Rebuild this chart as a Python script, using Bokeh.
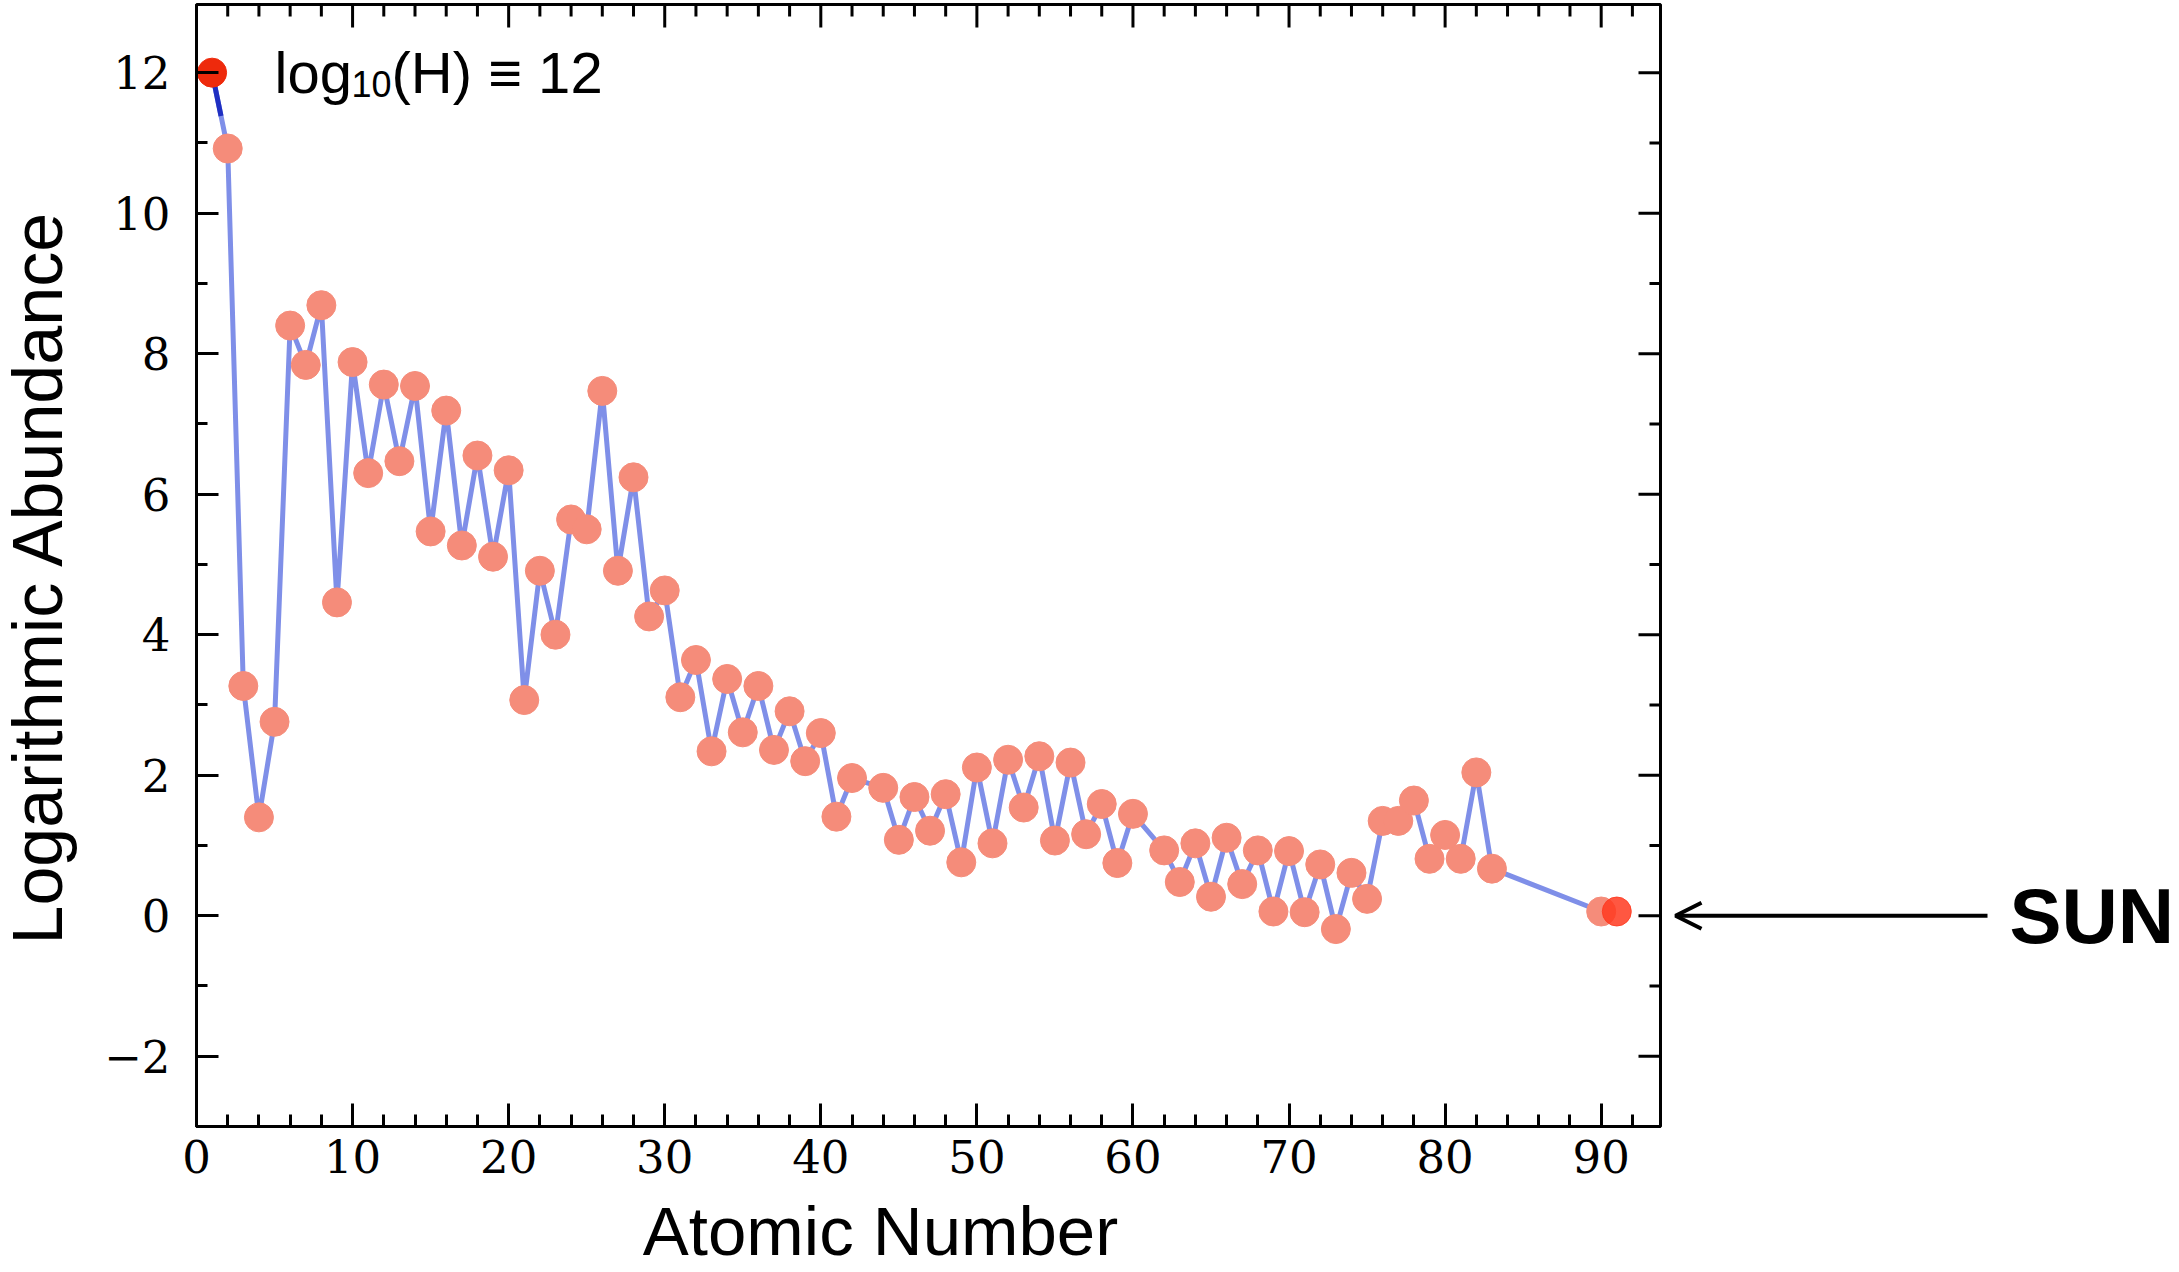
import math
from bokeh.plotting import figure
from bokeh.layouts import row, column
from bokeh.models import (Range1d, LinearAxis, SingleIntervalTicker, Label, Arrow, OpenHead)
from bokeh.embed import file_html
from bokeh.resources import INLINE

# ---- data ----
atomic_number = [1, 2, 3, 4, 5, 6, 7, 8, 9, 10,
                 11, 12, 13, 14, 15, 16, 17, 18, 19, 20,
                 21, 22, 23, 24, 25, 26, 27, 28, 29, 30,
                 31, 32, 33, 34, 35, 36, 37, 38, 39, 40,
                 41, 42, 44, 45, 46, 47, 48, 49, 50,
                 51, 52, 53, 54, 55, 56, 57, 58, 59, 60,
                 62, 63, 64, 65, 66, 67, 68, 69, 70,
                 71, 72, 73, 74, 75, 76, 77, 78, 79, 80,
                 81, 82, 83, 90]
log_abundance = [12.00, 10.92, 3.27, 1.40, 2.76, 8.40, 7.84, 8.69, 4.46, 7.88,
                 6.30, 7.56, 6.47, 7.54, 5.47, 7.19, 5.27, 6.55, 5.11, 6.34,
                 3.07, 4.91, 4.00, 5.64, 5.50, 7.47, 4.91, 6.24, 4.26, 4.63,
                 3.11, 3.64, 2.34, 3.37, 2.61, 3.27, 2.36, 2.91, 2.20, 2.60,
                 1.41, 1.96, 1.82, 1.08, 1.69, 1.21, 1.73, 0.76, 2.11,
                 1.03, 2.22, 1.54, 2.27, 1.07, 2.18, 1.16, 1.59, 0.75, 1.45,
                 0.93, 0.48, 1.03, 0.27, 1.11, 0.45, 0.93, 0.06, 0.92,
                 0.05, 0.73, -0.19, 0.61, 0.24, 1.35, 1.35, 1.64, 0.81, 1.15,
                 0.81, 2.04, 0.67, 0.06]
extra_z = [91]
extra_abundance = [0.06]

x_major_ticks = [0, 10, 20, 30, 40, 50, 60, 70, 80, 90]
x_minor_ticks = [v for v in range(0, 94, 2) if v % 10 != 0]
y_major_ticks = [-2, 0, 2, 4, 6, 8, 10, 12]
y_minor_ticks = [-3, -1, 1, 3, 5, 7, 9, 11]

X_MIN, X_MAX = 0, 93.8
Y_MIN, Y_MAX = -3, 12.97

LINE_COLOR = "#7F8FE8"
DOT_COLOR = "#F58C7A"
H_COLOR = "#EE2A0C"
EXTRA_COLOR = "#FF3A20"
FONT = "Liberation Sans"

TOTAL_W = 2176
TOP_H = 1192
BOTTOM_H = 78
LEFT_W = 100
MAIN_W = 96 + 1464 + 12
SIDE_W = TOTAL_W - LEFT_W - MAIN_W
FRAME_TOP = 4
FRAME_BOTTOM_BORDER = 66


def blank_figure(w, h, xr, yr, **kw):
    f = figure(width=w, height=h, x_range=xr, y_range=yr,
               output_backend="svg", toolbar_location=None,
               x_axis_location=None, y_axis_location=None, **kw)
    f.grid.visible = False
    f.outline_line_color = None
    f.background_fill_color = "white"
    f.border_fill_color = "white"
    return f


yr_shared = Range1d(Y_MIN, Y_MAX)

# ---- main plot ----
p = blank_figure(MAIN_W, TOP_H, Range1d(X_MIN, X_MAX), yr_shared,
                 min_border_left=96, min_border_right=12,
                 min_border_top=FRAME_TOP, min_border_bottom=FRAME_BOTTOM_BORDER)
p.outline_line_color = "black"
p.outline_line_width = 3


def style_axis(ax, tick_in, minor_in, standoff):
    ax.axis_line_color = "black"
    ax.axis_line_width = 3
    ax.major_tick_line_width = 3
    ax.minor_tick_line_width = 3
    ax.major_tick_out = 0
    ax.minor_tick_out = 0
    ax.major_tick_in = tick_in
    ax.minor_tick_in = minor_in
    ax.major_label_text_font = "DejaVu Serif"
    ax.major_label_text_font_size = "45px"
    ax.major_label_text_color = "black"
    ax.major_label_standoff = standoff


xb = LinearAxis(ticker=SingleIntervalTicker(interval=10, num_minor_ticks=5))
style_axis(xb, 23, 12, 13)
yl = LinearAxis(ticker=SingleIntervalTicker(interval=2, num_minor_ticks=2))
style_axis(yl, 22, 11, 26)
yl.major_label_overrides = {-2: "\u22122"}
p.add_layout(xb, "below")
p.add_layout(yl, "left")

# inward ticks on the top and right frame edges (half of each dash is clipped by the frame)
p.scatter(x_major_ticks, [Y_MAX] * len(x_major_ticks), marker="dash", size=46,
          angle=math.pi / 2, line_color="black", line_width=3)
p.scatter(x_minor_ticks, [Y_MAX] * len(x_minor_ticks), marker="dash", size=24,
          angle=math.pi / 2, line_color="black", line_width=3)
p.scatter([X_MAX] * len(y_major_ticks), y_major_ticks, marker="dash", size=44,
          line_color="black", line_width=3)
p.scatter([X_MAX] * len(y_minor_ticks), y_minor_ticks, marker="dash", size=22,
          line_color="black", line_width=3)

# connecting line
p.line(atomic_number, log_abundance, line_color=LINE_COLOR, line_width=5)
# darker first part of the H -> He segment
frac = 0.57
p.segment(x0=[atomic_number[0]], y0=[log_abundance[0]],
          x1=[atomic_number[0] + frac * (atomic_number[1] - atomic_number[0])],
          y1=[log_abundance[0] + frac * (log_abundance[1] - log_abundance[0])],
          line_color="#1F2FC2", line_width=5)

# dots
p.scatter(atomic_number[1:], log_abundance[1:], size=29,
          fill_color=DOT_COLOR, line_color=DOT_COLOR, line_width=1)
p.scatter(atomic_number[:1], log_abundance[:1], size=29,
          fill_color=H_COLOR, line_color=H_COLOR, line_width=1)
p.scatter(extra_z, extra_abundance, size=29,
          fill_color=EXTRA_COLOR, line_color=EXTRA_COLOR, fill_alpha=0.85, line_alpha=0.85)

# annotation log10(H) = 12
p.add_layout(Label(x=5.0, y=12, text="log", text_font=FONT, text_font_size="58px",
                   text_color="black", text_baseline="middle", text_align="left"))
p.add_layout(Label(x=5.0, y=12, x_offset=77, y_offset=-11, text="10", text_font=FONT,
                   text_font_size="36px", text_color="black", text_baseline="middle",
                   text_align="left"))
p.add_layout(Label(x=5.0, y=12, x_offset=117, text="(H) \u2261 12", text_font=FONT,
                   text_font_size="58px", text_color="black", text_baseline="middle",
                   text_align="left"))

# ---- left strip with the y-axis title ----
left = blank_figure(LEFT_W, TOP_H, Range1d(0, LEFT_W), Range1d(0, TOP_H),
                    min_border_left=0, min_border_right=0, min_border_top=0, min_border_bottom=0)
left.add_layout(Label(x=37, y=TOP_H - 608, text="Logarithmic Abundance", text_font=FONT,
                      text_font_size="70px", text_color="black", angle=math.pi / 2,
                      text_align="center", text_baseline="middle"))

# ---- right strip with the SUN arrow ----
side = blank_figure(SIDE_W, TOP_H, Range1d(0, SIDE_W), yr_shared,
                    min_border_left=0, min_border_right=0,
                    min_border_top=FRAME_TOP, min_border_bottom=FRAME_BOTTOM_BORDER)
side.add_layout(Arrow(end=OpenHead(size=26, line_width=4, line_color="black"),
                      x_start=315, y_start=0, x_end=3, y_end=0,
                      line_width=4, line_color="black"))
side.add_layout(Label(x=337, y=0, text="SUN", text_font=FONT, text_font_size="78px",
                      text_font_style="bold", text_color="black",
                      text_align="left", text_baseline="middle"))

# ---- bottom strip with the x-axis title ----
bottom = blank_figure(TOTAL_W, BOTTOM_H, Range1d(0, TOTAL_W), Range1d(0, BOTTOM_H),
                      min_border_left=0, min_border_right=0, min_border_top=0, min_border_bottom=0)
bottom.add_layout(Label(x=880, y=BOTTOM_H - (1231 - TOP_H), text="Atomic Number", text_font=FONT,
                        text_font_size="69px", text_color="black",
                        text_align="center", text_baseline="middle"))

layout = column(row(left, p, side, spacing=0), bottom, spacing=0)
open("out.html", "w").write(file_html(layout, INLINE))
